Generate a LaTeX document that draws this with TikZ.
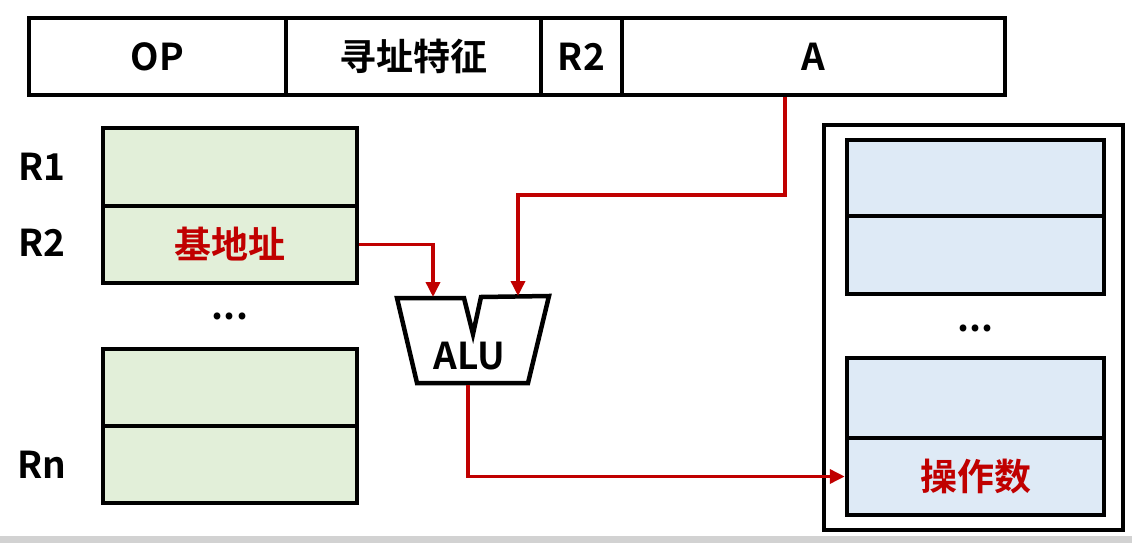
\documentclass[tikz,border=0pt]{standalone}
\usepackage{fontspec}
\setmainfont{Noto Sans CJK SC}[BoldFont={Noto Sans CJK SC Bold}]
\usetikzlibrary{arrows.meta}
\definecolor{regg}{HTML}{E2EFD9}
\definecolor{memb}{HTML}{DEEAF6}
\definecolor{darkred}{HTML}{C00000}
\begin{document}
\begin{tikzpicture}[x=1pt,y=-1pt,
  txt/.style={font=\fontsize{37}{39}\selectfont\bfseries},
  cell/.style={draw,line width=4.5pt,minimum height=77pt,inner sep=0pt,txt},
  reg/.style={draw,line width=4.5pt,fill=regg,minimum width=254pt,inner sep=0pt},
  mem/.style={draw,line width=4.5pt,fill=memb,minimum width=257pt,inner sep=0pt},
  arr/.style={draw=darkred,line width=3.5pt,-{Triangle[length=15pt,width=14pt]}},
  redtxt/.style={txt,text=darkred}]
\useasboundingbox (0,0) rectangle (1132,543);
\fill[gray!35] (0,536) rectangle (1132,543);
% instruction format
\node[cell,minimum width=257pt] (op) at (157.5,56.5) {OP};
\node[cell,minimum width=255pt] (mode) at (413.5,56.5) {寻址特征};
\node[cell,minimum width=81pt] (r2f) at (581.5,56.5) {R2};
\node[cell,minimum width=383pt] (a) at (813.5,56.5) {A};
% registers
\node[reg,minimum height=78pt] (r1) at (230,167) {};
\node[reg,minimum height=77pt,redtxt] (r2) at (230,244.5) {基地址};
\node[reg,minimum height=77pt] (rn1) at (230,387.5) {};
\node[reg,minimum height=77pt] (rn2) at (230,464.5) {};
\node[txt] (l1) at (42,167) {R1};
\node[txt] (l2) at (42,243) {R2};
\node[txt] (ln) at (42,465) {Rn};
\node[txt] (rdots) at (230,316) {...};
% memory
\node[draw,line width=4.5pt,minimum width=299pt,minimum height=405pt,inner sep=0pt] (memory) at (973.5,327.5) {};
\node[mem,minimum height=76pt] (m1) at (975.5,178) {};
\node[mem,minimum height=78pt] (m2) at (975.5,255) {};
\node[mem,minimum height=80pt] (m3) at (975.5,398) {};
\node[mem,minimum height=77pt,redtxt] (m4) at (975.5,476.5) {操作数};
\node[txt] (mdots) at (975.5,328) {...};
% ALU
\draw[line width=4.5pt,line join=miter] (397,298) -- (464,298) -- (473,334) -- (481,297) -- (549,296) -- (528,383) -- (417,383) -- cycle;
\node[txt] (alu) at (469,356) {ALU};
\coordinate (aluin1) at (433,297);
\coordinate (aluin2) at (518,296);
\coordinate (aluout) at (468,385);
\coordinate (aturn) at (785,195);
% connectors
\draw[arr] (r2.east) -| (aluin1);
\draw[arr] (aturn |- a.south) -- (aturn) -| (aluin2);
\draw[arr] (aluout) |- (m4.west);
\end{tikzpicture}
\end{document}
